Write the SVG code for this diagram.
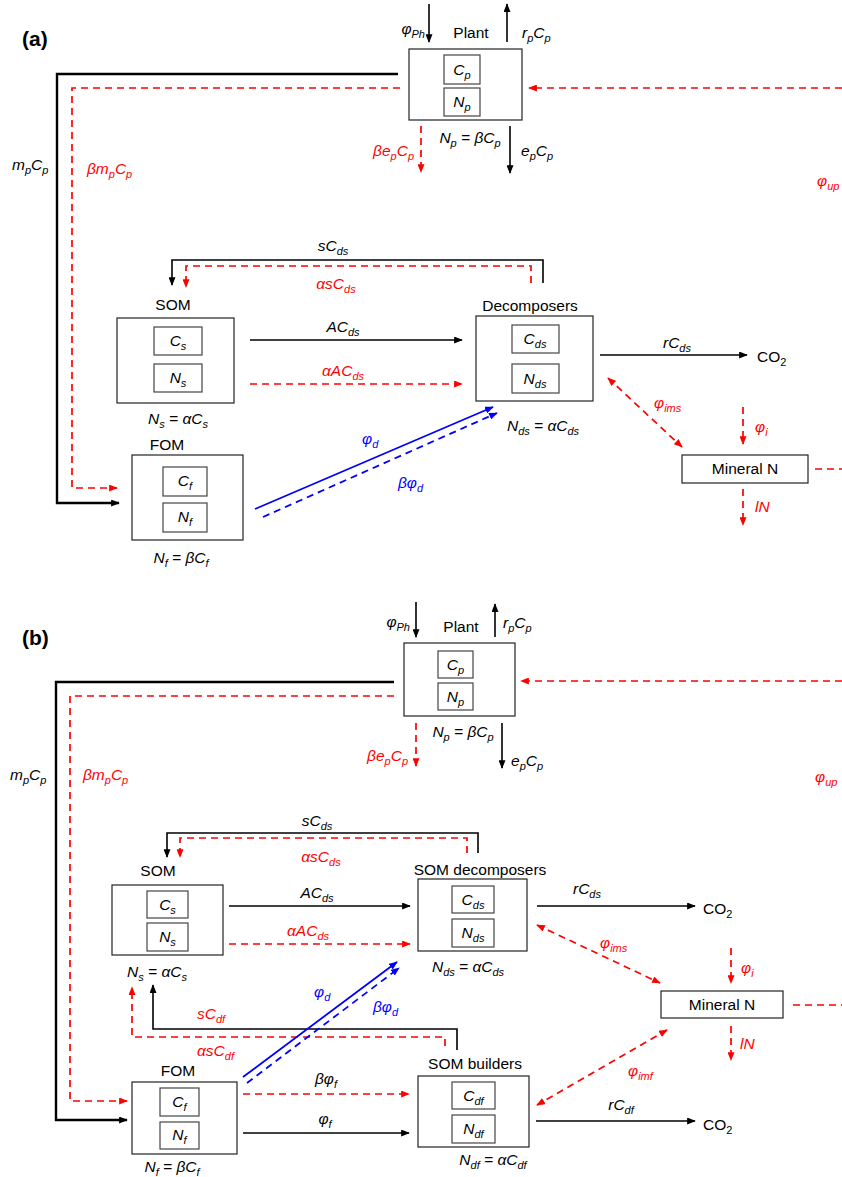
<svg xmlns="http://www.w3.org/2000/svg" width="842" height="1177" viewBox="0 0 842 1177">
<style>
text{font-family:"Liberation Sans",Arial,sans-serif;font-size:15.5px;fill:#000}
.mi{font-style:italic}
.sb{font-size:11px}
.r{fill:#f00}
.bl{fill:#00f}
.hd{font-size:21px;font-weight:bold}
.box{fill:#fff;stroke:#222;stroke-width:1.2}
.ibox{fill:#fff;stroke:#444;stroke-width:1.2}
.k{fill:none;stroke:#000;stroke-width:1.6}
.kk{fill:none;stroke:#000;stroke-width:2.4}
.rd{fill:none;stroke:#f00;stroke-width:1.7;stroke-dasharray:7,5}
.bs{fill:none;stroke:#00f;stroke-width:1.8}
.bd{fill:none;stroke:#00f;stroke-width:1.8;stroke-dasharray:7,5}
</style>
<defs>
<marker id="ak" viewBox="0 0 10 8" refX="9" refY="4" markerWidth="9" markerHeight="7" markerUnits="userSpaceOnUse" orient="auto-start-reverse"><path d="M0,0 L10,4 L0,8 z" fill="#000"/></marker>
<marker id="ar" viewBox="0 0 10 8" refX="9" refY="4" markerWidth="9" markerHeight="7" markerUnits="userSpaceOnUse" orient="auto-start-reverse"><path d="M0,0 L10,4 L0,8 z" fill="#f00"/></marker>
<marker id="ab" viewBox="0 0 10 8" refX="9" refY="4" markerWidth="9" markerHeight="7" markerUnits="userSpaceOnUse" orient="auto-start-reverse"><path d="M0,0 L10,4 L0,8 z" fill="#00f"/></marker>
</defs>

<text class="hd" x="22" y="46">(a)</text>
<text class="hd" x="22" y="645">(b)</text>

<!-- ============ PANEL A NODES ============ -->
<g id="a-plant">
<text x="471" y="38" text-anchor="middle">Plant</text>
<rect class="box" x="409" y="49" width="113" height="71"/>
<rect class="ibox" x="444" y="55" width="36" height="29"/>
<rect class="ibox" x="444" y="88" width="36" height="28"/>
<text class="mi" x="462" y="75" text-anchor="middle">C<tspan class="sb" dy="3.5">p</tspan></text>
<text class="mi" x="462" y="107" text-anchor="middle">N<tspan class="sb" dy="3.5">p</tspan></text>
<text class="mi" x="470" y="143" text-anchor="middle">N<tspan class="sb" dy="3.5">p</tspan><tspan dy="-3.5"> = βC</tspan><tspan class="sb" dy="3.5">p</tspan></text>
</g>
<g id="a-som">
<text x="173" y="310" text-anchor="middle">SOM</text>
<rect class="box" x="117" y="318" width="117" height="85"/>
<rect class="ibox" x="154" y="327" width="48" height="28"/>
<rect class="ibox" x="154" y="364" width="48" height="28"/>
<text class="mi" x="178" y="346" text-anchor="middle">C<tspan class="sb" dy="3.5">s</tspan></text>
<text class="mi" x="178" y="383" text-anchor="middle">N<tspan class="sb" dy="3.5">s</tspan></text>
<text class="mi" x="178" y="424" text-anchor="middle">N<tspan class="sb" dy="3.5">s</tspan><tspan dy="-3.5"> = αC</tspan><tspan class="sb" dy="3.5">s</tspan></text>
</g>
<g id="a-decomposers">
<text x="530" y="311" text-anchor="middle">Decomposers</text>
<rect class="box" x="476" y="316" width="117" height="85"/>
<rect class="ibox" x="512" y="325" width="47" height="28"/>
<rect class="ibox" x="512" y="364" width="47" height="29"/>
<text class="mi" x="535" y="344" text-anchor="middle">C<tspan class="sb" dy="3.5">ds</tspan></text>
<text class="mi" x="535" y="384" text-anchor="middle">N<tspan class="sb" dy="3.5">ds</tspan></text>
<text class="mi" x="543" y="431" text-anchor="middle">N<tspan class="sb" dy="3.5">ds</tspan><tspan dy="-3.5"> = αC</tspan><tspan class="sb" dy="3.5">ds</tspan></text>
</g>
<g id="a-fom">
<text x="167" y="450" text-anchor="middle">FOM</text>
<rect class="box" x="132" y="455" width="111" height="85"/>
<rect class="ibox" x="163" y="467" width="44" height="29"/>
<rect class="ibox" x="163" y="503" width="44" height="29"/>
<text class="mi" x="185" y="486" text-anchor="middle">C<tspan class="sb" dy="3.5">f</tspan></text>
<text class="mi" x="185" y="522" text-anchor="middle">N<tspan class="sb" dy="3.5">f</tspan></text>
<text class="mi" x="181" y="563" text-anchor="middle">N<tspan class="sb" dy="3.5">f</tspan><tspan dy="-3.5"> = βC</tspan><tspan class="sb" dy="3.5">f</tspan></text>
</g>
<g id="a-mineral">
<rect class="box" x="682" y="455" width="126" height="28"/>
<text x="745" y="474" text-anchor="middle">Mineral N</text>
</g>
<g id="a-co2">
<text x="757" y="362">CO<tspan class="sb" dy="3.5">2</tspan></text>
</g>

<!-- ============ PANEL A CONNECTORS ============ -->
<g id="a-connectors">
<line class="k" x1="429" y1="4" x2="429" y2="42" marker-end="url(#ak)"/>
<line class="k" x1="507" y1="42" x2="507" y2="4" marker-end="url(#ak)"/>
<polyline class="kk" points="398,74 57,74 57,503 119,503" marker-end="url(#ak)"/>
<polyline class="rd" points="400,88 72,88 72,488 117,488" marker-end="url(#ar)"/>
<line class="rd" x1="842" y1="88" x2="529" y2="88" marker-end="url(#ar)"/>
<line class="rd" x1="421" y1="126" x2="421" y2="172" marker-end="url(#ar)"/>
<line class="k" x1="510" y1="126" x2="510" y2="173" marker-end="url(#ak)"/>
<polyline class="k" points="543,283 543,260 172,260 172,285" marker-end="url(#ak)"/>
<polyline class="rd" points="531,283 531,266 186,266 186,287" marker-end="url(#ar)"/>
<line class="k" x1="250" y1="340" x2="462" y2="340" marker-end="url(#ak)"/>
<line class="rd" x1="250" y1="384" x2="462" y2="384" marker-end="url(#ar)"/>
<line class="k" x1="600" y1="355" x2="747" y2="355" marker-end="url(#ak)"/>
<line class="rd" x1="608" y1="378" x2="682" y2="447" marker-start="url(#ar)" marker-end="url(#ar)"/>
<line class="rd" x1="743" y1="407" x2="743" y2="444" marker-end="url(#ar)"/>
<line class="rd" x1="815" y1="469" x2="842" y2="469"/>
<line class="rd" x1="743" y1="489" x2="743" y2="525" marker-end="url(#ar)"/>
<line class="bs" x1="255" y1="509" x2="493" y2="407" marker-end="url(#ab)"/>
<line class="bd" x1="263" y1="517" x2="497" y2="413" marker-end="url(#ab)"/>

<text class="mi" x="425" y="34" text-anchor="end">φ<tspan class="sb" dy="3.5">Ph</tspan></text>
<text class="mi" x="522" y="38">r<tspan class="sb" dy="3.5">p</tspan><tspan dy="-3.5">C</tspan><tspan class="sb" dy="3.5">p</tspan></text>
<text class="mi" x="12" y="170">m<tspan class="sb" dy="3.5">p</tspan><tspan dy="-3.5">C</tspan><tspan class="sb" dy="3.5">p</tspan></text>
<text class="mi r" x="87" y="174">βm<tspan class="sb" dy="3.5">p</tspan><tspan dy="-3.5">C</tspan><tspan class="sb" dy="3.5">p</tspan></text>
<text class="mi r" x="414" y="156" text-anchor="end">βe<tspan class="sb" dy="3.5">p</tspan><tspan dy="-3.5">C</tspan><tspan class="sb" dy="3.5">p</tspan></text>
<text class="mi" x="521" y="156">e<tspan class="sb" dy="3.5">p</tspan><tspan dy="-3.5">C</tspan><tspan class="sb" dy="3.5">p</tspan></text>
<text class="mi r" x="817" y="186">φ<tspan class="sb" dy="3.5">up</tspan></text>
<text class="mi" x="333" y="251" text-anchor="middle">sC<tspan class="sb" dy="3.5">ds</tspan></text>
<text class="mi r" x="336" y="289" text-anchor="middle">αsC<tspan class="sb" dy="3.5">ds</tspan></text>
<text class="mi" x="343" y="332" text-anchor="middle">AC<tspan class="sb" dy="3.5">ds</tspan></text>
<text class="mi r" x="343" y="376" text-anchor="middle">αAC<tspan class="sb" dy="3.5">ds</tspan></text>
<text class="mi" x="677" y="348" text-anchor="middle">rC<tspan class="sb" dy="3.5">ds</tspan></text>
<text class="mi r" x="654" y="408">φ<tspan class="sb" dy="3.5">ims</tspan></text>
<text class="mi r" x="755" y="432">φ<tspan class="sb" dy="3.5">i</tspan></text>
<text class="mi r" x="755" y="512">lN</text>
<text class="mi bl" x="362" y="444">φ<tspan class="sb" dy="3.5">d</tspan></text>
<text class="mi bl" x="398" y="488">βφ<tspan class="sb" dy="3.5">d</tspan></text>
</g>

<!-- ============ PANEL B NODES ============ -->
<g id="b-plant">
<text x="461" y="632" text-anchor="middle">Plant</text>
<rect class="box" x="404" y="643" width="111" height="73"/>
<rect class="ibox" x="438" y="651" width="35" height="27"/>
<rect class="ibox" x="438" y="683" width="35" height="27"/>
<text class="mi" x="455.5" y="670" text-anchor="middle">C<tspan class="sb" dy="3.5">p</tspan></text>
<text class="mi" x="455.5" y="702" text-anchor="middle">N<tspan class="sb" dy="3.5">p</tspan></text>
<text class="mi" x="463" y="737" text-anchor="middle">N<tspan class="sb" dy="3.5">p</tspan><tspan dy="-3.5"> = βC</tspan><tspan class="sb" dy="3.5">p</tspan></text>
</g>
<g id="b-som">
<text x="158" y="876" text-anchor="middle">SOM</text>
<rect class="box" x="112" y="885" width="111" height="70"/>
<rect class="ibox" x="147" y="891" width="41" height="27"/>
<rect class="ibox" x="147" y="923" width="41" height="28"/>
<text class="mi" x="167.5" y="910" text-anchor="middle">C<tspan class="sb" dy="3.5">s</tspan></text>
<text class="mi" x="167.5" y="942" text-anchor="middle">N<tspan class="sb" dy="3.5">s</tspan></text>
<text class="mi" x="157" y="977" text-anchor="middle">N<tspan class="sb" dy="3.5">s</tspan><tspan dy="-3.5"> = αC</tspan><tspan class="sb" dy="3.5">s</tspan></text>
</g>
<g id="b-somdecomposers">
<text x="480" y="875" text-anchor="middle">SOM decomposers</text>
<rect class="box" x="418" y="879" width="109" height="72"/>
<rect class="ibox" x="452" y="886" width="42" height="27"/>
<rect class="ibox" x="452" y="919" width="42" height="28"/>
<text class="mi" x="473" y="905" text-anchor="middle">C<tspan class="sb" dy="3.5">ds</tspan></text>
<text class="mi" x="473" y="938" text-anchor="middle">N<tspan class="sb" dy="3.5">ds</tspan></text>
<text class="mi" x="468" y="972" text-anchor="middle">N<tspan class="sb" dy="3.5">ds</tspan><tspan dy="-3.5"> = αC</tspan><tspan class="sb" dy="3.5">ds</tspan></text>
</g>
<g id="b-fom">
<text x="178" y="1076" text-anchor="middle">FOM</text>
<rect class="box" x="132" y="1082" width="105" height="72"/>
<rect class="ibox" x="160" y="1088" width="39" height="28"/>
<rect class="ibox" x="160" y="1122" width="39" height="27"/>
<text class="mi" x="179.5" y="1107" text-anchor="middle">C<tspan class="sb" dy="3.5">f</tspan></text>
<text class="mi" x="179.5" y="1140" text-anchor="middle">N<tspan class="sb" dy="3.5">f</tspan></text>
<text class="mi" x="172" y="1172" text-anchor="middle">N<tspan class="sb" dy="3.5">f</tspan><tspan dy="-3.5"> = βC</tspan><tspan class="sb" dy="3.5">f</tspan></text>
</g>
<g id="b-sombuilders">
<text x="475" y="1069" text-anchor="middle">SOM builders</text>
<rect class="box" x="418" y="1076" width="111" height="71"/>
<rect class="ibox" x="452" y="1082" width="43" height="27"/>
<rect class="ibox" x="452" y="1115" width="43" height="28"/>
<text class="mi" x="473.5" y="1101" text-anchor="middle">C<tspan class="sb" dy="3.5">df</tspan></text>
<text class="mi" x="473.5" y="1134" text-anchor="middle">N<tspan class="sb" dy="3.5">df</tspan></text>
<text class="mi" x="493" y="1165" text-anchor="middle">N<tspan class="sb" dy="3.5">df</tspan><tspan dy="-3.5"> = αC</tspan><tspan class="sb" dy="3.5">df</tspan></text>
</g>
<g id="b-mineral">
<rect class="box" x="661" y="991" width="122" height="27"/>
<text x="722" y="1010" text-anchor="middle">Mineral N</text>
</g>
<g id="b-co2">
<text x="703" y="914">CO<tspan class="sb" dy="3.5">2</tspan></text>
<text x="703" y="1130">CO<tspan class="sb" dy="3.5">2</tspan></text>
</g>

<!-- ============ PANEL B CONNECTORS ============ -->
<g id="b-connectors">
<line class="k" x1="416" y1="602" x2="416" y2="637" marker-end="url(#ak)"/>
<line class="k" x1="495" y1="637" x2="495" y2="604" marker-end="url(#ak)"/>
<polyline class="kk" points="394,682 56,682 56,1120 127,1120" marker-end="url(#ak)"/>
<polyline class="rd" points="394,696 70,696 70,1101 127,1101" marker-end="url(#ar)"/>
<line class="rd" x1="842" y1="681" x2="521" y2="681" marker-end="url(#ar)"/>
<line class="rd" x1="416" y1="723" x2="416" y2="766" marker-end="url(#ar)"/>
<line class="k" x1="502" y1="723" x2="502" y2="768" marker-end="url(#ak)"/>
<polyline class="k" points="478,853 478,833 167,833 167,857" marker-end="url(#ak)"/>
<polyline class="rd" points="467,853 467,838 180,838 180,857" marker-end="url(#ar)"/>
<line class="k" x1="229" y1="906" x2="410" y2="906" marker-end="url(#ak)"/>
<line class="rd" x1="229" y1="944" x2="410" y2="944" marker-end="url(#ar)"/>
<line class="k" x1="537" y1="906" x2="695" y2="906" marker-end="url(#ak)"/>
<line class="rd" x1="537" y1="925" x2="660" y2="983" marker-start="url(#ar)" marker-end="url(#ar)"/>
<line class="rd" x1="731" y1="948" x2="731" y2="983" marker-end="url(#ar)"/>
<line class="rd" x1="793" y1="1005" x2="842" y2="1005"/>
<line class="rd" x1="731" y1="1026" x2="731" y2="1060" marker-end="url(#ar)"/>
<line class="rd" x1="667" y1="1030" x2="537" y2="1105" marker-start="url(#ar)" marker-end="url(#ar)"/>
<polyline class="k" points="457,1050 457,1029 153,1029 153,985" marker-end="url(#ak)"/>
<polyline class="rd" points="445,1046 445,1037 132,1037 132,987" marker-end="url(#ar)"/>
<line class="rd" x1="243" y1="1094" x2="409" y2="1094" marker-end="url(#ar)"/>
<line class="k" x1="243" y1="1133" x2="409" y2="1133" marker-end="url(#ak)"/>
<line class="k" x1="536" y1="1121" x2="695" y2="1121" marker-end="url(#ak)"/>
<line class="bs" x1="243" y1="1077" x2="397" y2="962" marker-end="url(#ab)"/>
<line class="bd" x1="247" y1="1083" x2="399" y2="968" marker-end="url(#ab)"/>

<text class="mi" x="410" y="627" text-anchor="end">φ<tspan class="sb" dy="3.5">Ph</tspan></text>
<text class="mi" x="503" y="628">r<tspan class="sb" dy="3.5">p</tspan><tspan dy="-3.5">C</tspan><tspan class="sb" dy="3.5">p</tspan></text>
<text class="mi" x="10" y="780">m<tspan class="sb" dy="3.5">p</tspan><tspan dy="-3.5">C</tspan><tspan class="sb" dy="3.5">p</tspan></text>
<text class="mi r" x="83" y="780">βm<tspan class="sb" dy="3.5">p</tspan><tspan dy="-3.5">C</tspan><tspan class="sb" dy="3.5">p</tspan></text>
<text class="mi r" x="408" y="761" text-anchor="end">βe<tspan class="sb" dy="3.5">p</tspan><tspan dy="-3.5">C</tspan><tspan class="sb" dy="3.5">p</tspan></text>
<text class="mi" x="511" y="766">e<tspan class="sb" dy="3.5">p</tspan><tspan dy="-3.5">C</tspan><tspan class="sb" dy="3.5">p</tspan></text>
<text class="mi r" x="815" y="782">φ<tspan class="sb" dy="3.5">up</tspan></text>
<text class="mi" x="317" y="826" text-anchor="middle">sC<tspan class="sb" dy="3.5">ds</tspan></text>
<text class="mi r" x="321" y="862" text-anchor="middle">αsC<tspan class="sb" dy="3.5">ds</tspan></text>
<text class="mi" x="317" y="898" text-anchor="middle">AC<tspan class="sb" dy="3.5">ds</tspan></text>
<text class="mi r" x="308" y="936" text-anchor="middle">αAC<tspan class="sb" dy="3.5">ds</tspan></text>
<text class="mi" x="587" y="894" text-anchor="middle">rC<tspan class="sb" dy="3.5">ds</tspan></text>
<text class="mi r" x="600" y="948">φ<tspan class="sb" dy="3.5">ims</tspan></text>
<text class="mi r" x="741" y="973">φ<tspan class="sb" dy="3.5">i</tspan></text>
<text class="mi r" x="740" y="1049">lN</text>
<text class="mi r" x="628" y="1076">φ<tspan class="sb" dy="3.5">imf</tspan></text>
<text class="mi r" x="197" y="1019">sC<tspan class="sb" dy="3.5">df</tspan></text>
<text class="mi r" x="197" y="1056">αsC<tspan class="sb" dy="3.5">df</tspan></text>
<text class="mi" x="326" y="1084" text-anchor="middle">βφ<tspan class="sb" dy="3.5">f</tspan></text>
<text class="mi" x="325" y="1124" text-anchor="middle">φ<tspan class="sb" dy="3.5">f</tspan></text>
<text class="mi" x="621" y="1110" text-anchor="middle">rC<tspan class="sb" dy="3.5">df</tspan></text>
<text class="mi bl" x="314" y="997">φ<tspan class="sb" dy="3.5">d</tspan></text>
<text class="mi bl" x="373" y="1012">βφ<tspan class="sb" dy="3.5">d</tspan></text>
</g>
</svg>
